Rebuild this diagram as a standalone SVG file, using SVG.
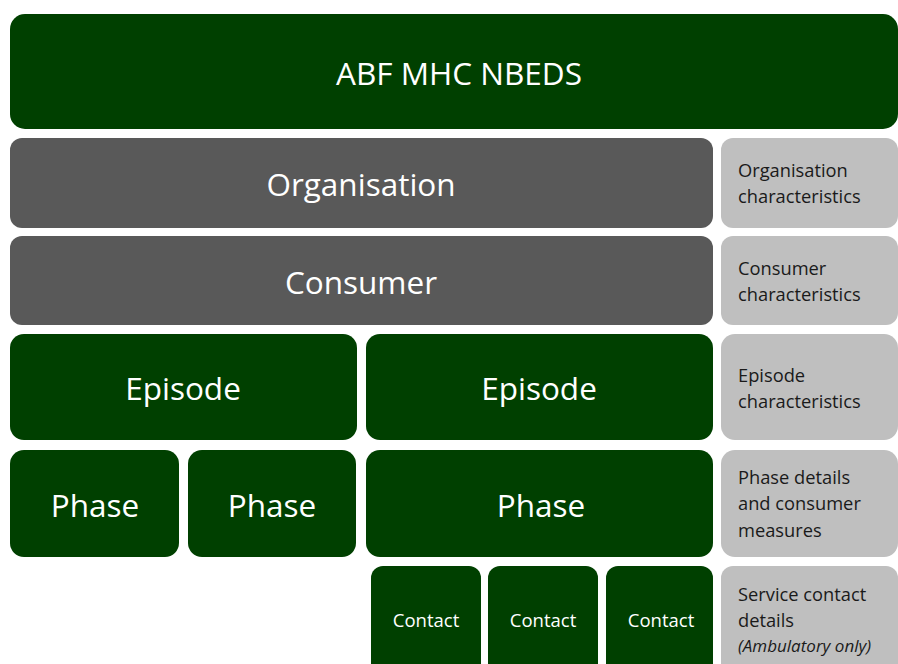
<svg xmlns="http://www.w3.org/2000/svg" width="898" height="664" viewBox="0 0 898 664">
<style>
.g{fill:#004000}
.d{fill:#595959}
.l{fill:#bfbfbf}
.t{font-family:"Open Sans","Liberation Sans",sans-serif;fill:#ffffff;text-anchor:middle}
.big{font-size:31.5px}
.sm{font-size:18.5px}
.r{font-family:"Open Sans","Liberation Sans",sans-serif;fill:#1a1a1a;font-size:18.3px}
.i{font-style:italic;font-size:17px}
</style>
<rect width="898" height="664" fill="#ffffff"/>
<g id="abf"><rect class="g" x="10" y="14" width="888" height="115" rx="15"/><text class="t big" x="459" y="85">ABF MHC NBEDS</text></g>
<g id="organisation"><rect class="d" x="10" y="138" width="703" height="90" rx="12"/><text class="t big" x="361" y="196">Organisation</text></g>
<g id="org-char"><rect class="l" x="721" y="138" width="177" height="90" rx="12"/><text class="r" x="738" y="177">Organisation</text><text class="r" x="738" y="203">characteristics</text></g>
<g id="consumer"><rect class="d" x="10" y="236" width="703" height="89" rx="12"/><text class="t big" x="361" y="294">Consumer</text></g>
<g id="con-char"><rect class="l" x="721" y="236" width="177" height="89" rx="12"/><text class="r" x="738" y="275">Consumer</text><text class="r" x="738" y="301">characteristics</text></g>
<g id="episode1"><rect class="g" x="10" y="334" width="347" height="106" rx="14"/><text class="t big" x="183" y="400">Episode</text></g>
<g id="episode2"><rect class="g" x="366" y="334" width="347" height="106" rx="14"/><text class="t big" x="539" y="400">Episode</text></g>
<g id="ep-char"><rect class="l" x="721" y="334" width="177" height="106" rx="14"/><text class="r" x="738" y="382">Episode</text><text class="r" x="738" y="408">characteristics</text></g>
<g id="phase1"><rect class="g" x="10" y="450" width="169" height="107" rx="14"/><text class="t big" x="95" y="517">Phase</text></g>
<g id="phase2"><rect class="g" x="188" y="450" width="168" height="107" rx="14"/><text class="t big" x="272" y="517">Phase</text></g>
<g id="phase3"><rect class="g" x="366" y="450" width="347" height="107" rx="14"/><text class="t big" x="541" y="517">Phase</text></g>
<g id="phase-det"><rect class="l" x="721" y="450" width="177" height="107" rx="14"/><text class="r" x="738" y="484">Phase details</text><text class="r" x="738" y="510">and consumer</text><text class="r" x="738" y="537">measures</text></g>
<g id="contact1"><rect class="g" x="371" y="566" width="110" height="110" rx="12"/><text class="t sm" x="426" y="627">Contact</text></g>
<g id="contact2"><rect class="g" x="488" y="566" width="110" height="110" rx="12"/><text class="t sm" x="543" y="627">Contact</text></g>
<g id="contact3"><rect class="g" x="606" y="566" width="107" height="110" rx="12"/><text class="t sm" x="661" y="627">Contact</text></g>
<g id="service"><rect class="l" x="721" y="566" width="177" height="110" rx="12"/><text class="r" x="738" y="601">Service contact</text><text class="r" x="738" y="627">details</text><text class="r i" x="738" y="652">(Ambulatory only)</text></g>
<g id="connectors"></g>
</svg>
